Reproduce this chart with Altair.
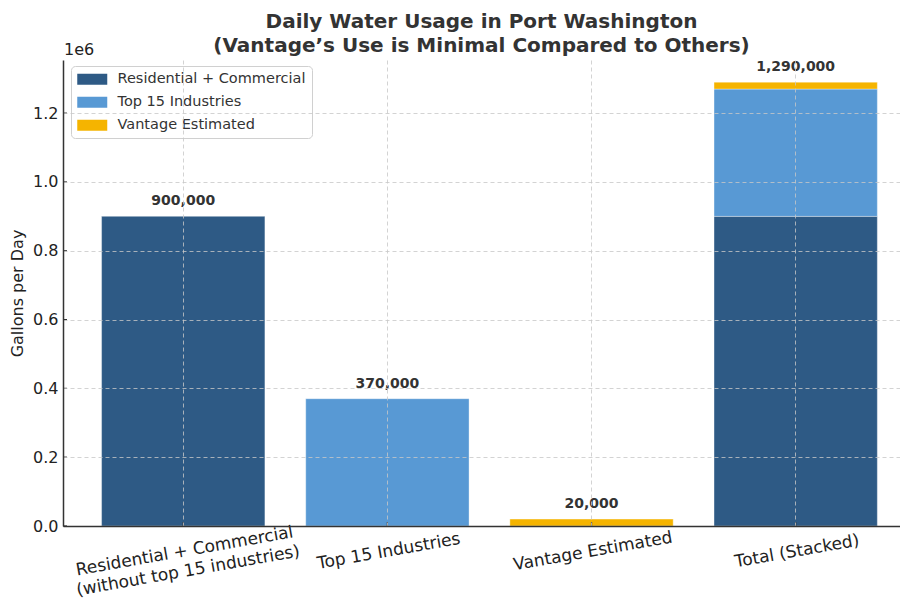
import altair as alt
import pandas as pd

categories = ["Residential + Commercial\n(without top 15 industries)", "Top 15 Industries",
              "Vantage Estimated", "Total (Stacked)"]
components = ["Residential + Commercial", "Top 15 Industries", "Vantage Estimated"]
colors = ["#2E5A85", "#5899D4", "#F5B400"]

# (category, component, value)
bar_cat = [categories[0], categories[1], categories[2], categories[3], categories[3], categories[3]]
bar_comp = [components[0], components[1], components[2], components[0], components[1], components[2]]
bar_val = [900000, 370000, 20000, 900000, 370000, 20000]
totals = [900000, 370000, 20000, 1290000]
y_ticks = [0, 200000, 400000, 600000, 800000, 1000000, 1200000]

W, H = 837, 466
FONT = "DejaVu Sans"

bars_df = pd.DataFrame({"category": bar_cat, "component": bar_comp, "value": bar_val,
                        "ord": [components.index(c) for c in bar_comp]})
tot_df = pd.DataFrame({"category": categories, "total": totals})
yt_df = pd.DataFrame({"v": y_ticks})

xscale = alt.Scale(domain=categories, paddingInner=0.2, paddingOuter=0.15, align=0.63)
yscale = alt.Scale(domain=[0, 1354500], nice=False)

xaxis = alt.Axis(title=None, labelAngle=-10, labelFontSize=17, labelColor="#222",
                 labelFont=FONT, labelExpr="split(datum.label, '\\n')", labelPadding=17,
                 labelBaseline="top", labelAlign="center", labelLineHeight=20, labelLimit=0,
                 grid=True, gridDash=[4, 3], gridColor="#c8c8c8", gridWidth=0.8,
                 bandPosition=0.5, ticks=False, domainColor="#333", domainWidth=1.5,
                 zindex=1)
yaxis = alt.Axis(title="Gallons per Day", titleFont=FONT, titleFontSize=16,
                 titleFontWeight="normal", titleColor="#222", titlePadding=7,
                 values=y_ticks, labelExpr="format(datum.value/1e6, '.1f')",
                 labelFontSize=16, labelFont=FONT, labelColor="#222", labelPadding=5,
                 grid=True, gridDash=[4, 3], gridColor="#c8c8c8", gridWidth=0.8,
                 ticks=False, domainColor="#333", domainWidth=1.5, zindex=1)

bars = alt.Chart(bars_df).mark_bar(stroke="white", strokeWidth=0.6, strokeOpacity=0.6).encode(
    x=alt.X("category:N", scale=xscale, axis=xaxis, sort=categories),
    y=alt.Y("sum(value):Q", scale=yscale, axis=yaxis, stack="zero"),
    color=alt.Color("component:N", scale=alt.Scale(domain=components, range=colors),
                    legend=alt.Legend(title=None, orient="none", legendX=8, legendY=6,
                                      labelFont=FONT, labelFontSize=14.5, labelColor="#333",
                                      labelLimit=0,
                                      symbolType="M-1,-0.786H3.286V0.786H-1Z", symbolSize=196,
                                      symbolStrokeWidth=0, symbolOpacity=1,
                                      strokeColor="#d0d0d0", fillColor="white", cornerRadius=4,
                                      padding=6, rowPadding=8, labelOffset=26)),
    order=alt.Order("ord:Q"),
)

labels = alt.Chart(tot_df).mark_text(font=FONT, fontSize=14, fontWeight="bold", color="#333",
                                     baseline="bottom", dy=-8).encode(
    x=alt.X("category:N", scale=xscale, sort=categories),
    y=alt.Y("total:Q", scale=yscale),
    text=alt.Text("total:Q", format=","),
)

xticks = alt.Chart(tot_df).mark_rule(color="#333", strokeWidth=1.2).encode(
    x=alt.X("category:N", scale=xscale, sort=categories),
    y=alt.value(H - 4), y2=alt.value(H),
)
yticks = alt.Chart(yt_df).mark_rule(color="#333", strokeWidth=1.2).encode(
    y=alt.Y("v:Q", scale=yscale), x=alt.value(0), x2=alt.value(4),
)
offset_txt = alt.Chart(pd.DataFrame({"t": ["1e6"]})).mark_text(
    font=FONT, fontSize=16, color="#222", align="left", baseline="alphabetic").encode(
    text="t:N", x=alt.value(1), y=alt.value(-5))

chart = alt.layer(bars, labels, xticks, yticks, offset_txt).properties(
    width=W, height=H,
    title=alt.TitleParams(
        text=["Daily Water Usage in Port Washington",
              "(Vantage\u2019s Use is Minimal Compared to Others)"],
        font=FONT, fontSize=20, fontWeight="bold", color="#333", anchor="middle",
        lineHeight=24, offset=6, dy=20),
    padding={"left": 55, "top": 52, "right": 0, "bottom": 79},
    autosize=alt.AutoSizeParams(type="none"),
).configure_view(stroke=None)

chart.save("out.html", embed_options={"renderer": "svg", "actions": False})
